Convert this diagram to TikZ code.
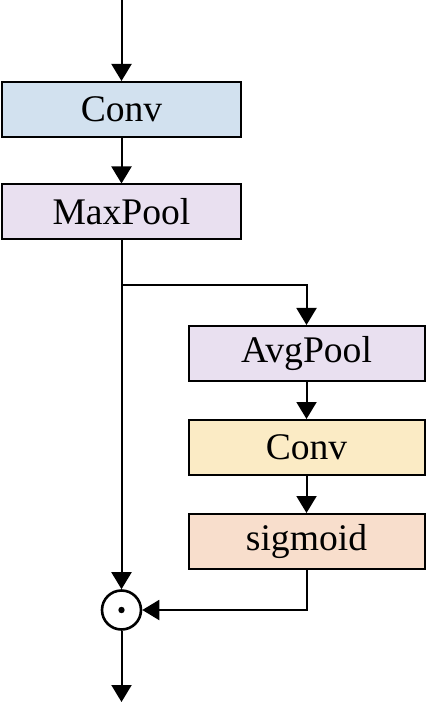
\documentclass[tikz,border=0pt]{standalone}
\usepackage{fontspec}
\setmainfont{Liberation Serif}
\usetikzlibrary{arrows.meta}

\definecolor{convblue}{RGB}{210,225,239}
\definecolor{poolpurple}{RGB}{233,224,240}
\definecolor{convyellow}{RGB}{251,235,197}
\definecolor{sigpink}{RGB}{248,222,204}

\begin{document}
\begin{tikzpicture}[x=0.5pt, y=-0.5pt,
    line width=1pt,
    >={Triangle[width=10pt,length=8.5pt]},
    box/.style={draw, line width=1pt, minimum height=27.5pt, inner sep=0pt,
      font=\fontsize{18.8}{20}\selectfont},
    mainbox/.style={box, minimum width=119.5pt},
    sidebox/.style={box, minimum width=118pt}]
    \useasboundingbox (0,0) rectangle (425,704);

    \coordinate (in) at (121.5,0);
    \node[mainbox, fill=convblue] (conv1) at (121.5,109.5) {Conv};
    \node[mainbox, fill=poolpurple] (maxpool) at (121.5,212) {MaxPool};
    \coordinate (split) at (121.5,285);
    \node[sidebox, fill=poolpurple] (avgpool) at (306.5,353.5) {AvgPool};
    \node[sidebox, fill=convyellow] (conv2) at (306.5,447.5) {Conv};
    \node[sidebox, fill=sigpink] (sigm) at (306.5,541.5) {sigmoid};
    \node[draw, circle, line width=1.3pt, minimum size=19.5pt, inner sep=0pt] (mul) at (121.5,610) {};
    \fill (mul.center) circle (1.6pt);
    \coordinate (out) at (121.5,702);

    \draw[->] (in) -- (conv1);
    \draw[->] (conv1) -- (maxpool);
    \draw[->] (maxpool) -- (mul);
    \draw[->] (split) -| (avgpool);
    \draw[->] (avgpool) -- (conv2);
    \draw[->] (conv2) -- (sigm);
    \draw[->] (sigm.south) |- (mul.east);
    \draw[->] (mul) -- (out);
  \end{tikzpicture}
\end{document}
